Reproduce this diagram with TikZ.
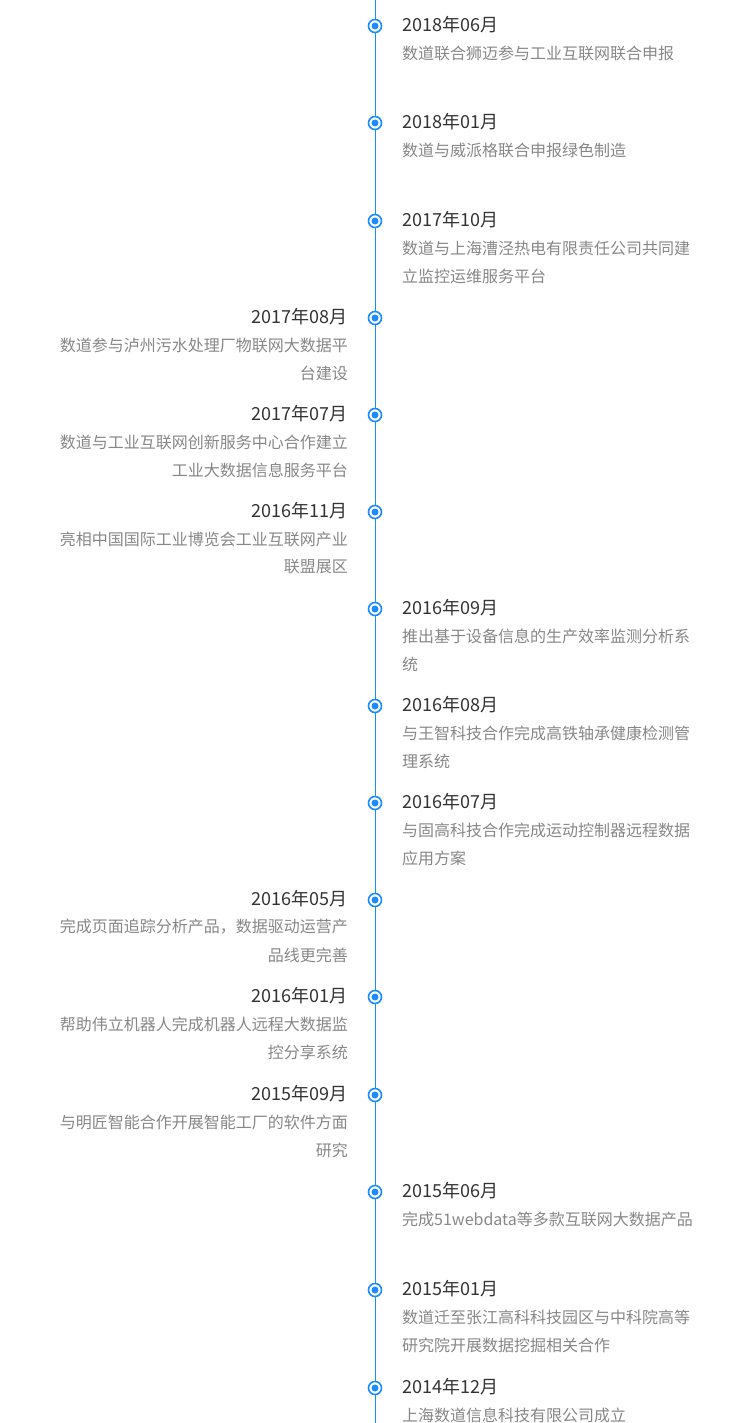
\documentclass[tikz,border=0pt]{standalone}
\usepackage{fontspec}
\setmainfont{Noto Sans CJK SC}
\begin{document}
\begin{tikzpicture}[x=1pt,y=-1pt,
  dt/.style={font=\fontsize{18}{20}\selectfont, text=black!80, inner sep=0pt},
  ds/.style={font=\fontsize{16}{18}\selectfont, text=black!47, inner sep=0pt},
  ring/.style={circle, draw=tl, line width=1.6pt, fill=white, minimum size=13pt, inner sep=0pt},
  dot/.style={circle, fill=tl, minimum size=7pt, inner sep=0pt}]
\definecolor{tl}{HTML}{1A8CFF}
\useasboundingbox (0,0) rectangle (749,1423);
\coordinate (top) at (375,0); \coordinate (bot) at (375,1423);
\draw[tl, line width=1pt] (top) -- (bot);
\def\ev#1#2#3#4#5{%
  \node[ring] (r#1) at (375,#1) {}; \node[dot] (d#1) at (375,#1) {};
  \ifnum#2=1
   \node[dt, anchor=west] (t#1) at (402,#1-1) {#3};
   \node[ds, anchor=west] (a#1) at (402,#1+27) {#4};
   \node[ds, anchor=west] (b#1) at (402,#1+55) {#5};
  \else
   \node[dt, anchor=east] (t#1) at (348,#1-1) {#3};
   \node[ds, anchor=east] (a#1) at (348,#1+27) {#4};
   \node[ds, anchor=east] (b#1) at (348,#1+55) {#5};
  \fi}
\ev{26}{1}{2018年06月}{数道联合狮迈参与工业互联网联合申报}{}
\ev{123}{1}{2018年01月}{数道与威派格联合申报绿色制造}{}
\ev{221}{1}{2017年10月}{数道与上海漕泾热电有限责任公司共同建}{立监控运维服务平台}
\ev{318}{0}{2017年08月}{数道参与泸州污水处理厂物联网大数据平}{台建设}
\ev{415}{0}{2017年07月}{数道与工业互联网创新服务中心合作建立}{工业大数据信息服务平台}
\ev{512}{0}{2016年11月}{亮相中国国际工业博览会工业互联网产业}{联盟展区}
\ev{609}{1}{2016年09月}{推出基于设备信息的生产效率监测分析系}{统}
\ev{706}{1}{2016年08月}{与王智科技合作完成高铁轴承健康检测管}{理系统}
\ev{803}{1}{2016年07月}{与固高科技合作完成运动控制器远程数据}{应用方案}
\ev{900}{0}{2016年05月}{完成页面追踪分析产品，数据驱动运营产}{品线更完善}
\ev{997}{0}{2016年01月}{帮助伟立机器人完成机器人远程大数据监}{控分享系统}
\ev{1095}{0}{2015年09月}{与明匠智能合作开展智能工厂的软件方面}{研究}
\ev{1192}{1}{2015年06月}{完成51webdata等多款互联网大数据产品}{}
\ev{1290}{1}{2015年01月}{数道迁至张江高科科技园区与中科院高等}{研究院开展数据挖掘相关合作}
\ev{1388}{1}{2014年12月}{上海数道信息科技有限公司成立}{}
\end{tikzpicture}
\end{document}
